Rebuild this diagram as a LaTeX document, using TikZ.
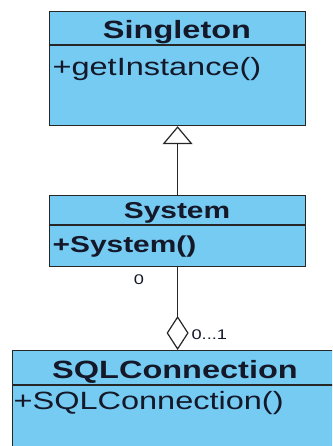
\documentclass[tikz,border=0pt]{standalone}
\usepackage{fontspec}
\setmainfont{Liberation Sans}[FakeStretch=1.3]
\usepackage{xcolor}
\usepackage{tikz}
\usetikzlibrary{arrows.meta, positioning}
\definecolor{umlblue}{RGB}{118,203,243}
\definecolor{umltext}{RGB}{20,24,40}

\begin{document}
\begin{tikzpicture}[x=1pt, y=1pt, line width=1.2pt,
  classbox/.style={draw=black!85, fill=umlblue, inner sep=0pt, anchor=north west},
  classname/.style={font=\fontsize{25}{29}\selectfont\bfseries, text=umltext, anchor=base, inner sep=0pt},
  method/.style={font=\fontsize{25}{29}\selectfont, text=umltext, anchor=base west, inner sep=0pt},
  mult/.style={font=\fontsize{14}{16}\selectfont, text=umltext, inner sep=0pt}
]
  \useasboundingbox (0,0) rectangle (332,-446);
  \clip (0,0) rectangle (332,-446);

  % Singleton class
  \node[classbox, minimum width=256pt, minimum height=114pt] (singleton) at (49,-11) {};
  \draw[black!85] (49,-45) -- (305,-45);
  \node[classname] (singletonname) at (177,-39) {Singleton};
  \node[method] (getinstance) at (52,-76) {+getInstance()};

  % System class
  \node[classbox, minimum width=256pt, minimum height=71pt] (system) at (49,-195) {};
  \draw[black!85] (49,-225) -- (305,-225);
  \node[classname, font=\fontsize{23}{27}\selectfont\bfseries] (systemname) at (177,-218) {System};
  \node[method, font=\fontsize{23}{27}\selectfont\bfseries] (systemctor) at (52,-252) {+System()};

  % SQLConnection class (runs off the page)
  \node[classbox, minimum width=340pt, minimum height=110pt] (sqlconn) at (12,-350) {};
  \draw[black!85] (12,-385) -- (340,-385);
  \node[classname] (sqlconnname) at (175,-378) {SQLConnection};
  \node[method] (sqlconnctor) at (13,-409) {+SQLConnection()};

  % Generalisation
  \draw[black!85, -{Triangle[open, width=30pt, length=18pt, fill=white]}]
    (system.north -| singleton.south) -- (singleton.south);

  % Aggregation with multiplicities
  \coordinate (sqltop) at (system.south |- sqlconn.north);
  \draw[black!85, -{Diamond[open, width=22pt, length=34pt, fill=white]}]
    (system.south) -- (sqltop);
  \node[mult] (multsystem) at (139,-280) {0};
  \node[mult, anchor=west] (multsql) at (191,-335) {0...1};
\end{tikzpicture}
\end{document}
